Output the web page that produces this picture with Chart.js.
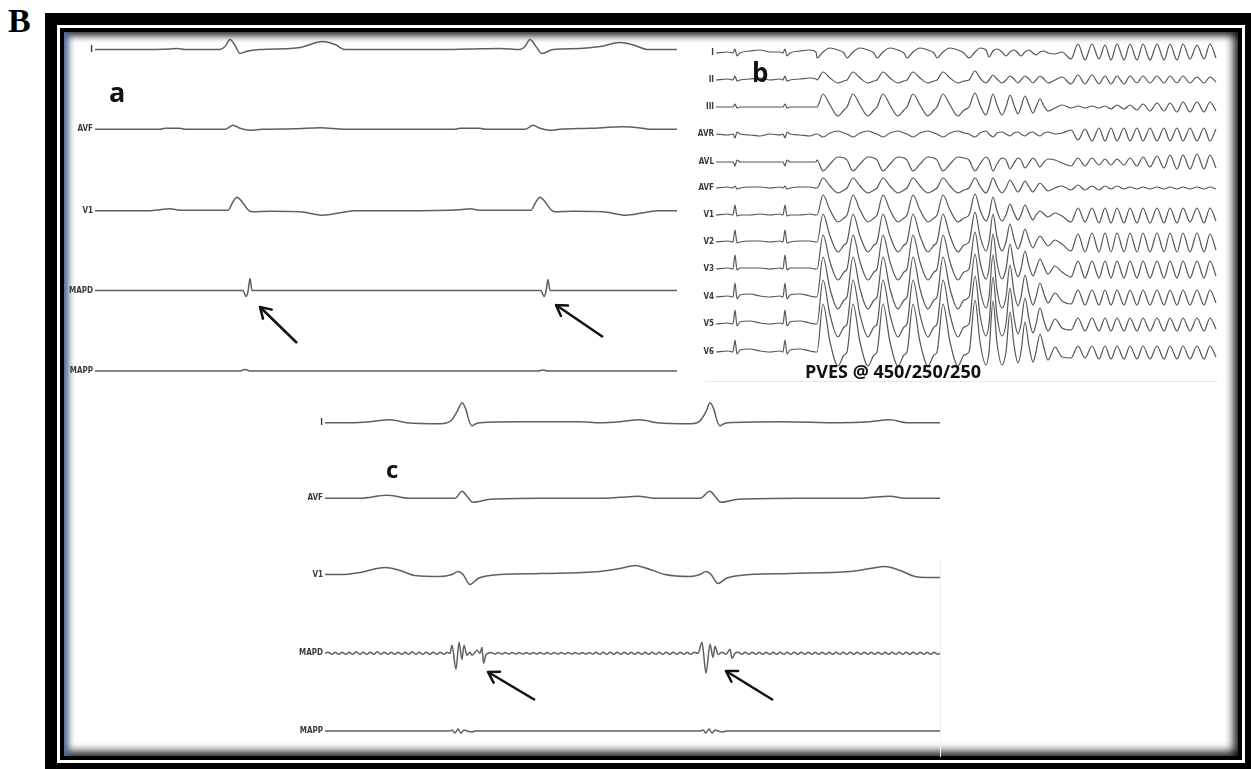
<!DOCTYPE html>
<html>
<head>
<meta charset="utf-8">
<script src="https://cdn.jsdelivr.net/npm/chart.js@4.4.1/dist/chart.umd.min.js"></script>
<style>
  html, body { margin: 0; padding: 0; background: #fff; }
  body { width: 1251px; height: 769px; position: relative; overflow: hidden; }
  #figLetter { position: absolute; left: 8px; top: 4px; font: bold 34px "Liberation Serif", serif; color: #000; line-height: 1; }
  #frame { position: absolute; left: 45px; top: 13px; width: 1212px; height: 762px; background: #000; }
  #frame .w { position: absolute; left: 12px; top: 12px; right: 12px; bottom: 12px; background: #fff; }
  #frame .k { position: absolute; left: 15px; top: 15px; right: 15px; bottom: 15px; background: #000; }
  #frame .in { position: absolute; left: 19px; top: 19px; right: 19px; bottom: 19px; background: #fff;
    box-shadow: inset 8px 0 6px -3px rgba(80,105,150,0.95), inset 0 8px 7px -4px rgba(0,0,0,0.8),
                inset -9px 0 8px -4px rgba(0,0,0,0.8), inset 0 -9px 8px -4px rgba(0,0,0,0.8); }
  canvas { position: absolute; z-index: 1; }
  .tag { position: absolute; z-index: 2; font-family: "Open Sans", sans-serif; font-weight: bold; line-height: 1; color: #111; }
  #lineB { position: absolute; left: 705px; top: 381px; width: 512px; height: 1px; background: #e9e9e9; z-index: 1; }
  #lineC { position: absolute; left: 940px; top: 560px; width: 1px; height: 197px; background: #f0f0f6; z-index: 1; }
</style>
</head>
<body>
<div id="figLetter">B</div>
<div id="frame"><div class="w"></div><div class="k"></div><div class="in"></div></div>
<div id="lineB"></div>
<div id="lineC"></div>
<canvas id="chartA" width="612" height="346" style="left:66px;top:35px"></canvas>
<canvas id="chartB" width="537" height="345" style="left:680px;top:36px"></canvas>
<canvas id="chartC" width="646" height="355" style="left:294px;top:393px"></canvas>
<div class="tag" style="left:109px;top:78px;font-size:27px">a</div>
<div class="tag" style="left:752px;top:59px;font-size:26px">b</div>
<div class="tag" style="left:386px;top:457px;font-size:24px">c</div>
<div class="tag" style="left:805px;top:362px;font-size:18px">PVES @ 450/250/250</div>
<script>
// ---- panel a : two sinus beats, MAPD recording ----
const leadsA = ['I', 'AVF', 'V1', 'MAPD', 'MAPP'];
// [time, amplitude] pairs, time from start of trace
const aI = [[0,0],[45,0],[75,0.5],[82,1],[90,0],[125,0],[130,3],[135,10],[140,4],[145,-4],[151,-2],[165,0],
  [195,1],[205,2],[228,8],[240,5],[250,0],[285,0],[345,0],[375,0.5],[405,1],[425,0],[430,3],[435,10],[441,3],
  [447,-4],[458,0],[485,1],[505,3],[525,7],[540,4],[552,0],[582,0]];
const aAVF = [[0,0],[65,0],[70,1],[85,1],[90,0],[130,0],[138,4],[145,1],[155,-1],[167,0],[200,0.5],[225,1.5],
  [250,0],[360,0],[365,1],[385,1],[390,0],[430,0],[438,4],[445,1],[455,-1],[465,0],[495,1],[528,2.5],[548,1],
  [555,0],[582,0]];
const aV1 = [[0,0],[55,0],[65,1],[75,2],[85,0.5],[133,0.5],[138,9],[142,13.5],[147,9],[153,1],[157,-1],
  [175,-0.5],[205,-1],[228,-4.5],[245,-2],[260,0],[305,0],[365,1],[375,2],[385,0.5],[436,0.5],[441,9],
  [445,13.5],[450,9],[456,1],[460,-1],[478,-0.5],[508,-1],[531,-4.5],[548,-2],[563,0],[582,0]];
const aMAPD = [[0,0],[148,0],[151,-6],[153,-1],[155,12],[157,0],[446,0],[449,-6],[451,-1],[453,11],[455,0],[582,0]];
const aMAPP = [[0,0],[145,0],[150,1.5],[155,0],[443,0],[448,1],[453,0],[582,0]];
const wavesA = [aI, aAVF, aV1, aMAPD, aMAPP];
// arrows: [tailTime, tailY, headTime, headY]
const arrowsA = [[202,-308,165,-272],[508,-302,461,-270]];

// ---- panel b : 12-lead, PVES induction ----
const leadsB = ['I','II','III','AVR','AVL','AVF','V1','V2','V3','V4','V5','V6'];
const timeB = [0,12,17,19,21,24,34,44,54,64,67,69,71,74,84,94,100,
  101,107,114,122,128, 131,137,144,152,158, 161,167,174,182,188, 191,197,204,212,218, 221,227,234,242,248,
  253,259,264,270,
  273,277,281,286, 290,294,298,302, 305,309,313,317, 320,324,328,332,
  339,346,
  355,362,369,376,383,389,395,401,408,414,421,427,434,441,448,454,461,467,474,481,488,494,500];
const bI = [0,1,0,4,-3,0,2,3,1,1,0,4,-3,0,2,3,1,
  -5,1,5,3,0, -5,1,5,3,0, -5,1,5,3,0, -5,1,5,3,0, -5,1,5,3,0,
  -5,1,5,3, -4,2,4,1, -3,1,3,0, -3,1,3,0, -2,1,2,0, -1,1,
  -6,9,-7,9,-6,8,-7,9,-7,9,-7,9,-7,9,-7,9,-7,9,-6,8,-6,9,-5];
const bII = [0,1,0,4,-1,0,1,2,0,1,0,4,-1,0,1,2,1,
  0,8,2,-3,-1, 0,8,2,-3,-1, 0,8,2,-3,-1, 0,8,2,-3,-1, 0,8,2,-3,-1,
  0,9,2,-3, 0,5,1,-3, 0,4,1,-3, 0,4,1,-3, 0,4,1,-3, 0,3,
  -4,5,-4,5,-4,4,-4,4,-4,4,-3,4,-3,4,-3,4,-3,4,-3,3,-3,3,-2];
const bIII = [0,0,0,3,-1,0,0,0,0,0,0,3,-1,0,0,0,0,
  0,13,2,-9,-3, 0,13,2,-9,-3, 0,13,2,-9,-3, 0,13,2,-9,-3, 0,13,2,-9,-3,
  0,14,2,-8, 0,13,2,-8, 0,12,2,-7, 0,11,2,-6, 0,8,1,-4, -1,2,
  -1,1,-1,1,-1,1,-2,2,-2,2,-3,3,-4,4,-4,4,-5,5,-5,5,-5,5,-4];
const bAVR = [0,-1,0,-4,2,0,-1,-2,0,-1,0,-4,2,0,-1,-2,0,
  0,-3,1,3,1, 0,-3,1,3,1, 0,-3,1,3,1, 0,-3,1,3,1, 0,-3,1,3,1,
  0,-3,1,3, 0,-3,1,2, 0,-2,1,2, 0,-2,1,2, 0,-2,1,2, 0,1,
  4,-6,5,-7,6,-7,6,-7,6,-7,6,-7,6,-7,6,-7,6,-7,6,-7,6,-7,5];
const bAVL = [0,0,0,-4,2,0,0,0,0,0,0,-4,2,0,0,0,0,
  2,-9,-2,5,4, 2,-9,-2,5,4, 2,-9,-2,5,4, 2,-9,-2,5,4, 2,-9,-2,5,4,
  2,-9,-2,5, 2,-9,-2,4, 2,-7,-1,4, 2,-6,-1,4, 1,-5,0,3, 2,-1,
  -4,4,-4,4,-3,3,-3,3,-3,4,-4,5,-5,6,-6,7,-7,7,-7,8,-7,7,-6];
const bAVF = [0,1,0,2,-1,0,1,1,0,1,0,2,-1,0,1,1,0,
  0,10,2,-5,-2, 0,10,2,-5,-2, 0,10,2,-5,-2, 0,10,2,-5,-2, 0,10,2,-5,-2,
  0,10,2,-5, 0,10,2,-5, 0,8,2,-4, 0,7,1,-4, 0,5,1,-3, 0,2,
  -2,3,-2,2,-2,2,-1,2,-1,1,-1,1,-1,1,-1,1,-1,1,-1,1,-1,1,-1];
const bV1 = [0,1,0,10,-1,0,0,1,0,1,0,10,-1,0,0,1,0,
  0,20,5,-7,-3, 0,20,5,-7,-3, 0,20,5,-7,-3, 0,20,5,-7,-3, 0,20,5,-7,-3,
  0,21,5,-6, 0,18,4,-6, 0,11,2,-5, 0,10,2,-5, 0,4,1,-2, 2,-1,
  -7,7,-7,7,-8,7,-8,7,-8,7,-8,7,-8,7,-8,7,-8,7,-7,7,-8,7,-6];
const bV2 = [0,1,0,12,-1,0,1,1,0,1,0,12,-1,0,1,1,0,
  0,28,6,-10,-3, 0,28,6,-10,-3, 0,28,6,-10,-3, 0,28,6,-10,-3, 0,28,6,-10,-3,
  0,30,6,-9, 0,28,5,-9, 0,18,3,-7, 0,13,2,-6, 0,6,1,-4, 2,-2,
  -9,8,-10,9,-10,9,-10,9,-10,9,-10,9,-10,9,-10,9,-10,9,-10,9,-10,8,-8];
const bV3 = [0,1,0,14,-1,1,1,1,0,1,0,14,-1,1,1,1,0,
  0,34,7,-11,-3, 0,34,7,-11,-3, 0,34,7,-11,-3, 0,34,7,-11,-3, 0,34,7,-11,-3,
  0,37,7,-10, 0,35,6,-10, 0,25,4,-8, 0,18,3,-7, 0,10,2,-5, 3,-3,
  -8,8,-9,8,-9,8,-9,8,-9,8,-9,8,-9,8,-9,8,-9,8,-9,8,-9,8,-7];
const bV4 = [0,1,0,14,-2,2,3,1,0,1,0,14,-2,2,3,1,0,
  0,40,8,-12,-3, 0,40,8,-12,-3, 0,40,8,-12,-3, 0,40,8,-12,-3, 0,40,8,-12,-3,
  0,43,8,-11, 0,42,7,-11, 0,32,5,-9, 0,22,4,-8, 0,14,3,-6, 4,-4,
  -7,7,-8,7,-8,7,-8,7,-8,7,-8,7,-8,7,-8,7,-8,7,-8,7,-8,7,-6];
const bV5 = [0,1,0,14,-2,2,3,1,0,1,0,14,-2,2,3,1,0,
  0,44,9,-13,-3, 0,44,9,-13,-3, 0,44,9,-13,-3, 0,44,9,-13,-3, 0,44,9,-13,-3,
  0,48,9,-12, 0,47,8,-12, 0,36,6,-10, 0,26,5,-9, 0,16,3,-7, 5,-4,
  -6,6,-7,6,-7,6,-7,6,-7,6,-7,6,-7,6,-7,6,-7,6,-7,6,-7,6,-5];
const bV6 = [0,1,0,12,-2,2,3,1,0,1,0,12,-2,2,3,1,0,
  0,48,10,-14,-3, 0,48,10,-14,-3, 0,48,10,-14,-3, 0,48,10,-14,-3, 0,48,10,-14,-3,
  0,52,10,-13, 0,51,9,-13, 0,40,7,-11, 0,30,6,-10, 0,18,4,-8, 5,-5,
  -6,6,-6,6,-7,6,-7,6,-7,6,-7,6,-7,6,-7,6,-7,6,-7,6,-7,6,-5];
const wavesB = [bI, bII, bIII, bAVR, bAVL, bAVF, bV1, bV2, bV3, bV4, bV5, bV6];

// ---- panel c : MAPD with fractionated potentials ----
const leadsC = ['I', 'AVF', 'V1', 'MAPD', 'MAPP'];
const cI = [[0,0],[25,0],[45,1],[65,3],[82,0],[115,-1],[122,0],[127,3],[132,11],[137,20],[141,13],[144,2],
  [147,-3],[151,-1],[155,0],[195,1],[255,1],[275,0],[295,1],[315,3],[332,0],[365,-1],[372,0],[376,3],[381,11],
  [385,20],[389,13],[392,2],[395,-3],[399,-1],[403,0],[455,1],[515,0],[545,1],[565,3],[582,0],[615,0]];
const cAVF = [[0,0],[35,0],[62,3],[85,0],[130,0],[137,7],[142,2],[148,-4],[165,-1],[215,0],[275,0],[295,1],
  [313,2],[330,0],[375,0],[385,7],[390,2],[396,-4],[413,-1],[475,0],[535,0],[547,1],[565,2],[580,0],[615,0]];
const cV1 = [[0,0],[20,0],[35,2],[60,7],[75,4],[90,-1],[115,-2],[127,0],[133,3],[138,0],[145,-10],[153,-4],
  [165,-1],[215,1],[275,3],[295,6],[310,9],[325,5],[340,0],[365,-2],[375,0],[381,3],[386,0],[393,-9],[401,-4],
  [415,-1],[465,1],[525,3],[545,6],[560,8],[575,4],[590,-2],[600,-3],[615,-3]];
const cMAPD = [[0,0],[3,1],[7,-1],[10,1],[14,-1],[17,1],[21,-1],[24,1],[28,-1],[31,1.5],[35,-1],[38,1],[42,-1],
  [45,1],[49,-1],[52,1.5],[56,-1],[59,1],[63,-1],[66,1],[70,-1],[73,1],[77,-1],[80,1],[84,-1],[87,1.5],[91,-1],
  [94,1],[98,-1],[101,1],[105,-1],[108,1],[112,-1],[115,1],[119,-1],[122,1],[125,0],
  [127,8],[131,-16],[134,11],[137,-6],[139,8],[142,-2],[145,1],[147,-2],[152,3],[155,0],[157,6],[158.5,-10],
  [161,-1],[163,0],
  [166,0.7],[170,-0.7],[173,0.7],[177,-0.7],[180,0.7],[184,-0.7],[187,0.7],[191,-0.7],[194,0.7],[198,-0.7],
  [201,0.7],[205,-0.7],[208,0.7],[212,-0.7],[215,0.7],[219,-0.7],[222,0.7],[226,-0.7],[229,0.7],[233,-0.7],
  [236,0.7],[240,-0.7],[243,0.7],[247,-0.7],[250,0.7],[254,-0.7],[257,0.7],[261,-0.7],[264,0.7],[268,-0.7],
  [271,1],[275,-1],[278,1],[282,-1],[285,1],[289,-1],[292,1],[296,-1],[299,1],[303,-1],[306,1],[310,-1],
  [313,1],[317,-1],[320,1],[324,-1],[327,1],[331,-1],[334,1],[338,-1],[341,1],[345,-1],[348,1],[352,-1],
  [355,1],[359,-1],[362,1],[366,-1],[369,1],[373,0],
  [377,11],[381,-20],[385,9],[388,-4],[390,7],[393,-1],[397,1],[401,-1],[405,4],[407,-5],[410,0],
  [413,1],[417,-1],[420,1],[424,-1],[427,1],[431,-1],[434,1],[438,-1],[441,1],[445,-1],[448,1],[452,-1],
  [455,1],[459,-1],[462,1],[466,-1],[469,1],[473,-1],[476,1],[480,-1],[483,1],[487,-1],[490,1],[494,-1],
  [497,1],[501,-1],[504,1],[508,-1],[511,1],[515,-1],[518,1],[522,-1],[525,1],[529,-1],[532,1],[536,-1],
  [539,1],[543,-1],[546,1],[550,-1],[553,1],[557,-1],[560,1],[564,-1],[567,1],[571,-1],[574,1],[578,-1],
  [581,1],[585,-1],[588,1],[592,-1],[595,1],[599,-1],[602,1],[606,-1],[609,1],[613,-1],[615,0]];
const cMAPP = [[0,0],[125,0],[127,1],[130,-2],[133,2],[136,-2],[139,1],[142,0],[147,-1],[150,0],[375,0],
  [378,1],[381,-2],[384,2],[387,-2],[390,1],[393,0],[398,-1],[401,0],[615,0]];
const wavesC = [cI, cAVF, cV1, cMAPD, cMAPP];
const arrowsC = [[210,-307,163,-279],[448,-307,401,-278]];

// ---- layout (kept apart from the data) ----
const baseA = [-14.5, -94.3, -175.7, -255.5, -336];
const baseB = [-17, -44, -71, -98, -126, -152, -179, -206, -233, -261, -288, -316];
const baseC = [-29.7, -105.3, -181.5, -260.3, -338];

const arrowHeads = {
  id: 'arrowHeads',
  afterDatasetsDraw(chart) {
    const ctx = chart.ctx;
    chart.data.datasets.forEach((ds, i) => {
      if (!ds.isArrow) return;
      const pts = chart.getDatasetMeta(i).data;
      const tail = pts[0], head = pts[1];
      const ang = Math.atan2(head.y - tail.y, head.x - tail.x);
      ctx.save();
      ctx.strokeStyle = ds.borderColor;
      ctx.lineWidth = ds.borderWidth;
      ctx.lineCap = 'round';
      ctx.beginPath();
      [-0.55, 0.55].forEach(d => {
        ctx.moveTo(head.x, head.y);
        ctx.lineTo(head.x - 12 * Math.cos(ang + d), head.y - 12 * Math.sin(ang + d));
      });
      ctx.stroke();
      ctx.restore();
    });
  }
};

function traceSets(waves, bases, color, width) {
  return waves.map((w, i) => ({
    data: w.map(p => ({ x: p[0], y: bases[i] + p[1] })),
    borderColor: color, borderWidth: width, pointRadius: 0,
    cubicInterpolationMode: 'monotone', clip: false
  }));
}
function arrowSets(arrows) {
  return arrows.map(a => ({
    isArrow: true,
    data: [{ x: a[0], y: a[1] }, { x: a[2], y: a[3] }],
    borderColor: '#111', borderWidth: 2.5, pointRadius: 0, tension: 0, clip: false
  }));
}
function panelOptions(xMax, yMin, axisW, bases, names, fontSize) {
  return {
    responsive: false, animation: false, events: [], devicePixelRatio: 1,
    layout: { padding: 0 },
    plugins: { legend: { display: false }, tooltip: { enabled: false } },
    scales: {
      x: { type: 'linear', display: false, min: 0, max: xMax },
      y: {
        type: 'linear', min: yMin, max: 0,
        grid: { display: false, drawTicks: false }, border: { display: false },
        afterBuildTicks: s => { s.ticks = bases.map(v => ({ value: v })); },
        afterFit: s => { s.width = axisW; s.paddingTop = 0; s.paddingBottom = 0; },
        ticks: {
          autoSkip: false, padding: 2, color: '#3a3a3a',
          font: { family: "'DejaVu Sans Condensed', 'DejaVu Sans', sans-serif", size: fontSize, weight: 'bold' },
          callback: (v, i) => names[i]
        }
      }
    }
  };
}

wavesB.forEach((w, i) => { if (w.length !== timeB.length) console.error('lead ' + leadsB[i] + ' has ' + w.length); });
const pairsB = wavesB.map(w => w.map((v, i) => [timeB[i], v]));

new Chart(document.getElementById('chartA'), {
  type: 'line',
  data: { datasets: traceSets(wavesA, baseA, '#5f5f5f', 1.5).concat(arrowSets(arrowsA)) },
  options: panelOptions(583, -346, 29, baseA, leadsA, 8),
  plugins: [arrowHeads]
});
new Chart(document.getElementById('chartB'), {
  type: 'line',
  data: { datasets: traceSets(pairsB, baseB, '#555', 1.2) },
  options: panelOptions(501, -345, 36, baseB, leadsB, 8)
});
new Chart(document.getElementById('chartC'), {
  type: 'line',
  data: { datasets: traceSets(wavesC, baseC, '#5f5f5f', 1.5).concat(arrowSets(arrowsC)) },
  options: panelOptions(615, -355, 31, baseC, leadsC, 8),
  plugins: [arrowHeads]
});
</script>
</body>
</html>
